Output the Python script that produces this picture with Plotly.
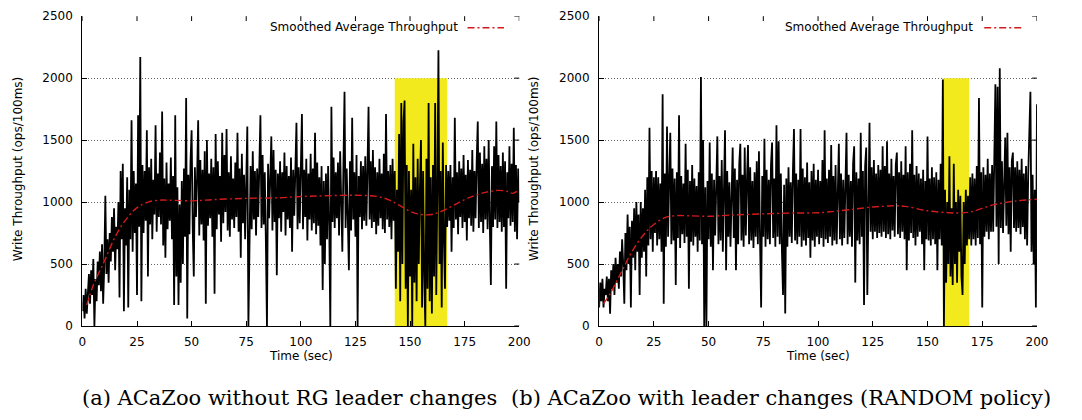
import numpy as np
import plotly.graph_objects as go

W, H = 1082, 420

# ---------------- data (2 samples per second) ----------------
thr_a = [
    120, 250, 60, 300, 100, 230, 420, 180, 450, 250, 540, 0, 380, 200, 520, 330, 600, 280, 660, 180,
    480, 1050, 420, 700, 350, 750, 520, 880, 600, 950, 450, 800, 620, 1000, 230, 1250, 700, 1310, 120, 950,
    650, 1200, 150, 1100, 700, 1660, 600, 1250, 750, 1150, 250, 1700, 800, 2170, 200, 1300, 750, 1250, 850, 1580,
    400, 1280, 820, 1350, 700, 1180, 900, 1620, 760, 1230, 880, 1400, 820, 1730, 650, 1190, 550, 1320, 780, 1150,
    850, 1360, 700, 1210, 170, 1700, 400, 1120, 170, 980, 350, 1170, 500, 1270, 720, 1840, 60, 1220, 740, 1330,
    1580, 790, 400, 1280, 880, 1190, 1660, 730, 1340, 820, 1260, 690, 1410, 180, 1500, 810, 1230, 870, 1350, 720,
    1280, 260, 1550, 780, 1330, 900, 1210, 680, 1560, 830, 1380, 920, 1590, 770, 1240, 720, 1370, 860, 1190, 790,
    1320, 880, 1560, 760, 1270, 550, 1390, 830, 1220, 700, 1350, 1610, 0, 920, 1290, 780, 1410, 860, 1250, 730,
    1270, 880, 1330, 1700, 790, 1380, 820, 1240, 680, 0, 1310, 870, 1190, 1530, 770, 1420, 840, 1260, 410, 1230,
    870, 1330, 760, 1240, 920, 1400, 730, 1290, 860, 1210, 790, 1360, 600, 1260, 890, 1310, 1640, 780, 1280, 830,
    1330, 1710, 780, 1260, 880, 1350, 690, 1230, 860, 1390, 770, 1270, 830, 1560, 740, 1320, 810, 1200, 650, 1290,
    290, 1170, 500, 1230, 700, 1290, 820, 0, 1770, 840, 1360, 790, 1240, 870, 1320, 730, 1410, 860, 600, 1300,
    1890, 790, 1270, 880, 450, 1330, 770, 1680, 860, 1240, 720, 1380, 0, 1210, 880, 1330, 780, 1290, 850, 1370,
    810, 1260, 1770, 860, 1330, 790, 1420, 840, 1280, 740, 1240, 810, 1350, 870, 1230, 780, 1390, 750, 1710, 860,
    1250, 800, 1300, 700, 1350, 850, 1250, 300, 1100, 600, 1550, 200, 1800, 500, 1650, 1820, 300, 1300, 0, 1250,
    400, 1100, 0, 1470, 350, 1200, 200, 1350, 500, 1100, 1500, 150, 1250, 400, 0, 1350, 300, 1800, 200, 1200,
    100, 1300, 400, 1800, 250, 1100, 2226, 500, 1250, 150, 1480, 700, 300, 1300, 800, 1250, 850, 1300, 600, 1200,
    790, 1680, 860, 1240, 740, 1330, 880, 1270, 790, 1380, 840, 1220, 690, 1340, 870, 1260, 810, 1420, 760, 1250,
    870, 1320, 1650, 790, 1400, 840, 1310, 750, 1450, 860, 1350, 780, 1500, 850, 330, 1290, 800, 1450, 860, 1650,
    790, 1380, 840, 1290, 760, 1400, 800, 1330, 300, 1240, 870, 1450, 810, 1310, 840, 1600, 760, 1300, 700, 1270,
    1000,
]

thr_b = [
    150, 350, 200, 380, 150, 300, 250, 400, 200, 380, 100, 450, 300, 500, 250, 550, 350, 500, 300, 600,
    400, 700, 500, 180, 750, 450, 900, 500, 800, 150, 850, 550, 950, 450, 1000, 600, 900, 250, 1000, 550,
    950, 600, 1100, 400, 1200, 650, 1600, 700, 1250, 600, 1200, 750, 1250, 650, 1200, 700, 1150, 600, 1870, 180,
    1230, 640, 1610, 720, 1180, 1560, 660, 1270, 690, 1190, 330, 1240, 710, 1700, 630, 1210, 740, 1150, 670, 1470,
    720, 1260, 300, 1170, 680, 1300, 650, 1190, 720, 1130, 600, 1240, 690, 2010, 660, 1500, 0, 1120, 0, 1170,
    700, 1480, 640, 1230, 450, 1180, 730, 1270, 1530, 660, 1210, 690, 1340, 600, 1190, 1580, 450, 1250, 720, 1160,
    640, 1200, 1440, 710, 1270, 450, 1180, 660, 1310, 1470, 690, 1220, 640, 1440, 730, 1160, 1460, 660, 1280, 690,
    1170, 630, 1240, 720, 1330, 660, 1410, 690, 150, 1210, 720, 1510, 640, 1260, 700, 1180, 660, 1300, 1480, 710,
    1190, 640, 1620, 720, 1490, 660, 1230, 600, 250, 1140, 100, 1190, 640, 1280, 720, 1160, 670, 1240, 1590, 690,
    1230, 660, 1180, 720, 1590, 640, 1270, 690, 1200, 650, 1320, 710, 1160, 550, 1250, 690, 1310, 640, 1180, 720,
    1260, 660, 1170, 710, 1340, 640, 1580, 700, 1190, 670, 1260, 720, 1460, 650, 1210, 690, 1300, 660, 1180, 1470,
    700, 1230, 650, 1180, 710, 1290, 1560, 660, 1220, 720, 1170, 640, 1310, 1450, 350, 1240, 690, 1190, 660, 1560,
    720, 1250, 170, 1290, 1440, 250, 1230, 1640, 760, 1280, 700, 1340, 760, 1230, 710, 1300, 750, 1260, 720, 1450,
    760, 1290, 710, 1490, 740, 1230, 700, 1350, 770, 1210, 720, 1300, 1400, 740, 1240, 710, 1330, 760, 1220, 700,
    1450, 450, 1240, 690, 1310, 750, 1580, 710, 1220, 650, 1290, 720, 1230, 760, 1190, 660, 1260, 450, 1170, 700,
    1530, 690, 1190, 650, 1280, 700, 1200, 660, 1240, 450, 1180, 700, 1310, 650, 1990, 0, 1100, 350, 1000, 500,
    1370, 400, 950, 330, 1310, 500, 1000, 350, 1100, 600, 1050, 400, 250, 1000, 500, 1100, 650, 1050, 700, 1200,
    650, 1230, 700, 1190, 650, 1290, 710, 1840, 660, 1240, 150, 1280, 720, 1220, 760, 1350, 700, 1230, 760, 1300,
    760, 1320, 1950, 800, 1930, 500, 2080, 790, 1330, 750, 1270, 1520, 810, 1560, 740, 1280, 600, 1330, 1400, 790,
    1280, 760, 1330, 790, 1260, 740, 1350, 800, 1230, 700, 1290, 650, 1220, 1490, 1890, 600, 1220, 500, 1100, 150,
    1790,
]

smooth_a_t = [2, 5, 10, 15, 20, 25, 30, 35, 40, 50, 60, 75, 90, 100, 110, 125, 135, 140, 145, 150,
              155, 160, 165, 170, 175, 180, 185, 190, 195, 197, 200]
smooth_a = [170, 330, 520, 720, 860, 955, 1000, 1015, 1015, 1010, 1020, 1030, 1035, 1045, 1050, 1055, 1045,
            1020, 975, 925, 900, 900, 930, 975, 1020, 1055, 1080, 1094, 1085, 1070, 1100]

smooth_b_t = [2, 5, 10, 15, 20, 24, 30, 35, 40, 50, 60, 75, 90, 100, 110, 125, 135, 140, 150,
              160, 165, 170, 180, 190, 200]
smooth_b = [180, 260, 430, 600, 730, 805, 875, 890, 890, 885, 895, 905, 912, 914, 930, 960, 970, 965, 930,
            914, 912, 922, 977, 1008, 1023]

highlight_a = [143, 167]      # time window (sec)
highlight_b = [157, 169]
highlight_top = 2000          # ops/100ms

x_ticks = [0, 25, 50, 75, 100, 125, 150, 175, 200]
y_ticks = [0, 500, 1000, 1500, 2000, 2500]

legend_label = "Smoothed Average Throughput"
x_title = "Time (sec)"
y_title = "Write Throughput (ops/100ms)"
captions = ["(a) ACaZoo without RG leader changes", "(b) ACaZoo with leader changes (RANDOM policy)"]

# ---------------- styling / layout ----------------
SANS = "DejaVu Sans"
SERIF = "DejaVu Serif"
RED = "#d41a1a"
YELLOW = "#f2ea1c"
DASHDOT = "7px,3px,2px,3px"

def px(xp):
    return xp / W

def py(yp):
    return 1 - yp / H

y_dom = [py(330), py(9.5)]
panels = [
    dict(vals=thr_a, st=smooth_a_t, sv=smooth_a, hl=highlight_a, dom=(79.5, 522.5), xa="x", ya="y",
         ytitle_x=15, xtitle_x=301, cap_x=290, leg_right=462, leg_line=(470, 507)),
    dict(vals=thr_b, st=smooth_b_t, sv=smooth_b, hl=highlight_b, dom=(603.5, 1047.5), xa="x2", ya="y2",
         ytitle_x=538, xtitle_x=825.5, cap_x=788, leg_right=985, leg_line=(994, 1032)),
]

fig = go.Figure()
shapes = []
annotations = []
layout_axes = {}

for i, p in enumerate(panels):
    n = len(p["vals"])
    t = np.linspace(0, 200, n)
    fig.add_trace(go.Scatter(x=t, y=p["vals"], mode="lines", xaxis=p["xa"], yaxis=p["ya"],
                             line=dict(color="black", width=1.8), showlegend=False, hoverinfo="skip"))
    fig.add_trace(go.Scatter(x=p["st"], y=p["sv"], mode="lines", xaxis=p["xa"], yaxis=p["ya"],
                             line=dict(color=RED, width=1.4, dash=DASHDOT, shape="spline", smoothing=1.0),
                             showlegend=False, hoverinfo="skip"))

    suffix = "" if i == 0 else "2"
    layout_axes["xaxis" + suffix] = dict(
        domain=[px(p["dom"][0]), px(p["dom"][1])], range=[0, 200], anchor=p["ya"],
        tickmode="array", tickvals=x_ticks, ticks="inside", ticklen=5, tickcolor="black", tickwidth=1,
        showline=True, linecolor="black", linewidth=1.2, showgrid=False, zeroline=False,
        tickfont=dict(family=SANS, size=12, color="black"), ticklabelstandoff=4,
    )
    layout_axes["yaxis" + suffix] = dict(
        domain=y_dom, range=[0, 2500], anchor=p["xa"],
        tickmode="array", tickvals=y_ticks, ticks="inside", ticklen=5, tickcolor="black", tickwidth=1,
        showline=True, linecolor="black", linewidth=1.2, showgrid=True, gridcolor="#666",
        griddash="1px,2px", gridwidth=1, zeroline=False,
        tickfont=dict(family=SANS, size=12, color="black"), ticklabelstandoff=6,
    )

    # highlighted window
    shapes.append(dict(type="rect", xref=p["xa"], yref=p["ya"], x0=p["hl"][0], x1=p["hl"][1],
                       y0=0, y1=highlight_top, fillcolor=YELLOW, line=dict(width=0), layer="between"))
    # mirrored ticks on top and right (gnuplot style, no border line)
    plot_w = p["dom"][1] - p["dom"][0]
    for tv in x_ticks:
        shapes.append(dict(type="line", xref=p["xa"], yref=p["ya"] + " domain", x0=tv, x1=tv,
                           y0=1, y1=1 - 5 / 320.5, line=dict(color="black", width=1), layer="above"))
    for tv in y_ticks:
        shapes.append(dict(type="line", xref=p["xa"] + " domain", yref=p["ya"], x0=1, x1=1 - 5 / plot_w,
                           y0=tv, y1=tv, line=dict(color="black", width=1), layer="above"))
    # legend (text then sample, as in the original)
    annotations.append(dict(text=legend_label, xref="paper", yref="paper", x=px(p["leg_right"]), y=py(21),
                            xanchor="right", yanchor="middle", showarrow=False,
                            font=dict(family=SANS, size=12, color="black")))
    shapes.append(dict(type="line", xref="paper", yref="paper", x0=px(p["leg_line"][0]), x1=px(p["leg_line"][1]),
                       y0=py(21.5), y1=py(21.5), line=dict(color=RED, width=1.4, dash=DASHDOT)))
    # axis titles
    annotations.append(dict(text=y_title, xref="paper", yref="paper", x=px(p["ytitle_x"]), y=py(168),
                            xanchor="center", yanchor="middle", textangle=-90, showarrow=False,
                            font=dict(family=SANS, size=12, color="black")))
    annotations.append(dict(text=x_title, xref="paper", yref="paper", x=px(p["xtitle_x"]), y=py(361),
                            xanchor="center", yanchor="middle", showarrow=False,
                            font=dict(family=SANS, size=12, color="black")))
    annotations.append(dict(text=captions[i], xref="paper", yref="paper", x=px(p["cap_x"]), y=py(404),
                            xanchor="center", yanchor="middle", showarrow=False,
                            font=dict(family=SERIF, size=21, color="black")))

fig.update_layout(
    width=W, height=H, margin=dict(l=0, r=0, t=0, b=0),
    paper_bgcolor="white", plot_bgcolor="white",
    showlegend=False, shapes=shapes, annotations=annotations,
    **layout_axes,
)

fig.write_html("out.html")
